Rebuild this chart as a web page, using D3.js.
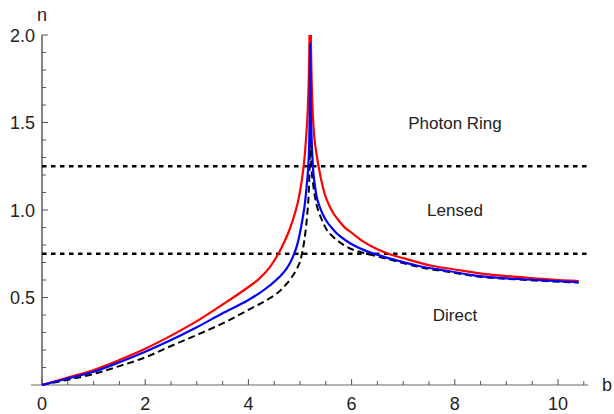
<!DOCTYPE html>
<html><head><meta charset="utf-8">
<script src="https://cdn.jsdelivr.net/npm/d3@7"></script>
<style>body{margin:0;background:#fff}svg{display:block}text{font-family:"Liberation Sans",Arial,sans-serif}</style>
</head><body><svg id="c" width="614" height="414"></svg>
<script>
const bRed   = [0,0.5,1,1.5,2,2.5,3,3.5,4,4.2,4.42,4.58,4.7,4.8,4.9,4.97,5.03,5.07,5.1,5.12,5.15,5.17,5.18,5.19,5.205,5.215,5.225,5.245,5.27,5.3,5.36,5.42,5.48,5.56,5.65,5.75,5.85,6.0,6.2,6.4,6.71,7.0,7.58,8.0,8.49,9.4,10.4];
const nRed   = [0,0.042,0.086,0.143,0.207,0.282,0.365,0.46,0.56,0.605,0.675,0.75,0.82,0.89,0.98,1.06,1.16,1.25,1.34,1.42,1.57,1.75,1.9,2.1,2.1,1.9,1.75,1.57,1.44,1.36,1.25,1.16,1.09,1.03,0.98,0.94,0.905,0.87,0.825,0.79,0.75,0.725,0.68,0.66,0.638,0.613,0.594];
const bBlue  = [0,0.5,1,1.5,2,2.5,3,3.5,4,4.2,4.42,4.6,4.74,4.82,4.88,4.94,5.0,5.05,5.1,5.13,5.16,5.18,5.19,5.196,5.207,5.22,5.25,5.28,5.32,5.38,5.45,5.53,5.61,5.7,5.8,5.97,6.29,6.6,6.9,7.3,7.9,8.4,9.4,10.4];
const nBlue  = [0,0.037,0.076,0.13,0.19,0.257,0.33,0.41,0.486,0.522,0.57,0.617,0.665,0.705,0.745,0.795,0.87,0.95,1.05,1.14,1.25,1.4,1.6,1.95,1.6,1.45,1.25,1.16,1.08,1.02,0.97,0.93,0.9,0.87,0.845,0.81,0.765,0.735,0.71,0.68,0.65,0.625,0.603,0.588];
const bBlack = [0,0.5,1,1.5,2,2.5,3,3.5,4,4.2,4.42,4.6,4.7,4.82,4.94,5.0,5.03,5.07,5.1,5.13,5.15,5.17,5.18,5.19,5.196,5.208,5.22,5.25,5.29,5.34,5.4,5.46,5.52,5.63,5.75,5.97,6.2,6.5,6.9,7.3,7.9,8.4,9.4,10.4];
const nBlack = [0,0.03,0.063,0.108,0.158,0.223,0.286,0.352,0.429,0.46,0.497,0.535,0.565,0.607,0.665,0.705,0.74,0.8,0.86,0.94,1.01,1.1,1.18,1.3,1.6,1.4,1.25,1.16,1.076,1.01,0.96,0.92,0.886,0.85,0.82,0.78,0.757,0.735,0.705,0.675,0.645,0.622,0.6,0.585];
const hLines = [1.25, 0.75];
const xTicks = [0,2,4,6,8,10];
const yTicks = [0.5,1.0,1.5,2.0];
const regionLabels = [{t:"Photon Ring", n:1.5}, {t:"Lensed", n:1.0}, {t:"Direct", n:0.4}];

const svg = d3.select("#c");
const x = d3.scaleLinear().domain([0,10]).range([42,558]);
const y = d3.scaleLinear().domain([0,2]).range([385,35]);

svg.append("defs").append("clipPath").attr("id","clip")
  .append("rect").attr("x",0).attr("y",y(2.0)).attr("width",614).attr("height",414);

const ax = svg.append("g");
ax.append("line").attr("x1",31).attr("x2",588).attr("y1",y(0)).attr("y2",y(0)).attr("stroke","#999").attr("stroke-width",1.3);
ax.append("line").attr("x1",x(0)).attr("x2",x(0)).attr("y1",y(0)).attr("y2",y(2)).attr("stroke","#333").attr("stroke-width",1.2);
d3.range(0,10.51,0.5).forEach(v=>{
  const maj = Math.abs(v/2-Math.round(v/2))<1e-6;
  ax.append("line").attr("x1",x(v)).attr("x2",x(v)).attr("y1",y(0)).attr("y2",y(0)-(maj?6:4)).attr("stroke","#555").attr("stroke-width",1);
});
xTicks.forEach(v=>ax.append("text").attr("x",x(v)).attr("y",410).attr("text-anchor","middle").attr("font-size",18).attr("fill","#222").text(v));
d3.range(0.1,2.001,0.1).forEach(v=>{
  const maj = Math.abs(v*2-Math.round(v*2))<1e-6;
  ax.append("line").attr("x1",x(0)).attr("x2",x(0)+(maj?6:4)).attr("y1",y(v)).attr("y2",y(v)).attr("stroke","#555").attr("stroke-width",1);
});
yTicks.forEach(v=>ax.append("text").attr("x",35).attr("y",y(v)+6.5).attr("text-anchor","end").attr("font-size",18).attr("fill","#222").text(d3.format(".1f")(v)));
ax.append("text").attr("x",42).attr("y",21).attr("text-anchor","middle").attr("font-size",18).attr("fill","#222").text("n");
ax.append("text").attr("x",607).attr("y",391).attr("text-anchor","middle").attr("font-size",18).attr("fill","#222").text("b");

hLines.forEach(v=>svg.append("line").attr("x1",x(0)).attr("x2",591).attr("y1",y(v)).attr("y2",y(v))
  .attr("stroke","#000").attr("stroke-width",2.5).attr("stroke-dasharray","4.5,4.5"));

regionLabels.forEach(d=>svg.append("text").attr("x",455).attr("y",y(d.n)+6).attr("text-anchor","middle").attr("font-size",17).attr("fill","#222").text(d.t));

const line = d3.line().x(d=>x(d[0])).y(d=>y(d[1])).curve(d3.curveMonotoneX);
const g = svg.append("g").attr("clip-path","url(#clip)");
g.append("path").datum(bBlack.map((b,i)=>[b,nBlack[i]])).attr("d",line).attr("fill","none").attr("stroke","#000").attr("stroke-width",2).attr("stroke-dasharray","7,4");
g.append("path").datum(bRed.map((b,i)=>[b,nRed[i]])).attr("d",line).attr("fill","none").attr("stroke","#ff0000").attr("stroke-width",2.2);
g.append("path").datum(bBlue.map((b,i)=>[b,nBlue[i]])).attr("d",line).attr("fill","none").attr("stroke","#0000ff").attr("stroke-width",2.2);
</script></body></html>
